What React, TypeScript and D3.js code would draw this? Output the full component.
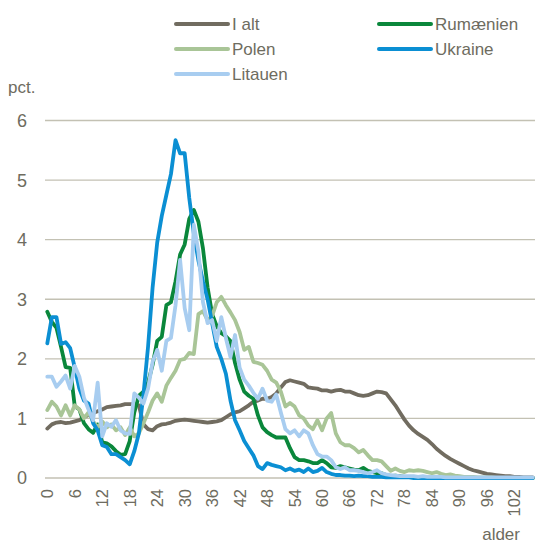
import React from "react";
import * as d3 from "d3";

// ages 0..106
const ages = d3.range(0, 107);
const tickAges = d3.range(0, 103, 6);
const yTicks = [0, 1, 2, 3, 4, 5, 6];

const iAlt = [
  0.83, 0.9, 0.93, 0.94, 0.92, 0.93, 0.95, 0.97, 1.02, 1.06, 1.09, 1.12, 1.15, 1.19, 1.2, 1.21, 1.22, 1.24, 1.24, 1.24,
  1.22, 0.9, 0.82, 0.8, 0.87, 0.9, 0.91, 0.93, 0.96, 0.97, 0.98, 0.97, 0.96, 0.95, 0.94, 0.93, 0.94, 0.95, 0.97, 1.02,
  1.07, 1.1, 1.12, 1.17, 1.22, 1.28, 1.3, 1.33, 1.33, 1.36, 1.42, 1.52, 1.61, 1.64, 1.62, 1.6, 1.58, 1.52, 1.51, 1.5,
  1.47, 1.47, 1.45, 1.47, 1.48, 1.45, 1.45, 1.42, 1.39, 1.38, 1.39, 1.42, 1.45, 1.44, 1.42, 1.32, 1.22, 1.1, 0.98, 0.88,
  0.8, 0.74, 0.69, 0.64, 0.57, 0.49, 0.43, 0.37, 0.32, 0.28, 0.24, 0.2, 0.16, 0.13, 0.11, 0.09, 0.07, 0.06, 0.05, 0.04,
  0.03, 0.03, 0.02, 0.02, 0.01, 0.01, 0.01,
];

const rumaenien = [
  2.79, 2.62, 2.52, 2.2, 1.86, 1.85, 1.2, 1.15, 0.92, 0.82, 0.76, 0.9, 0.6, 0.58, 0.53, 0.45, 0.39, 0.4, 0.62, 1.1,
  1.38, 1.45, 1.6, 1.9, 2.3, 2.37, 2.9, 2.95, 3.3, 3.75, 3.92, 4.35, 4.5, 4.3, 3.85, 3.2, 2.75, 2.55, 2.43, 2.38,
  2.3, 1.93, 1.65, 1.45, 1.38, 1.33, 1.05, 0.85, 0.77, 0.72, 0.68, 0.68, 0.68, 0.5, 0.35, 0.3, 0.3, 0.28, 0.25, 0.25,
  0.3, 0.25, 0.18, 0.17, 0.2, 0.18, 0.16, 0.14, 0.13, 0.17, 0.12, 0.1, 0.08, 0.08, 0.05, 0.03, 0.04, 0.03, 0.02, 0.02,
  0.02, 0.02, 0.01, 0.01, 0.01, 0.01, 0.01, 0.01, 0, 0, 0, 0, 0, 0, 0, 0, 0, 0, 0, 0,
  0, 0, 0, 0, 0, 0, 0,
];

const polen = [
  1.14, 1.28, 1.2, 1.05, 1.22, 1.05, 1.22, 1.15, 1.0, 1.1, 0.95, 0.85, 0.95, 0.85, 0.9, 0.8, 0.85, 0.72, 0.85, 0.7,
  0.75, 0.92, 1.1, 1.3, 1.42, 1.28, 1.55, 1.68, 1.8, 1.98, 2.0, 2.1, 2.08, 2.75, 2.8, 2.65, 2.72, 2.95, 3.04, 2.9,
  2.78, 2.65, 2.45, 2.15, 2.2, 1.95, 1.93, 1.9, 1.8, 1.65, 1.6, 1.45, 1.2, 1.26, 1.2, 1.05, 1.0, 0.88, 0.82, 0.97,
  0.8, 1.0, 1.09, 0.75, 0.6, 0.55, 0.55, 0.5, 0.43, 0.47, 0.38, 0.3, 0.3, 0.28, 0.2, 0.12, 0.16, 0.12, 0.1, 0.13,
  0.12, 0.13, 0.12, 0.1, 0.08, 0.1, 0.07, 0.05, 0.06, 0.04, 0.03, 0.02, 0.02, 0.02, 0.01, 0.01, 0.01, 0.01, 0, 0,
  0, 0, 0, 0, 0, 0, 0,
];

const ukraine = [
  2.26, 2.7, 2.7, 2.25, 2.28, 2.18, 1.85, 1.5, 1.3, 1.25, 0.92, 0.8, 0.55, 0.52, 0.4, 0.4, 0.35, 0.3, 0.23, 0.45,
  0.75, 1.4, 2.2, 3.2, 3.95, 4.4, 4.75, 5.1, 5.67, 5.45, 5.45, 4.7, 4.1, 3.65, 3.3, 3.0, 2.6, 2.2, 2.0, 1.75,
  1.3, 0.97, 0.8, 0.62, 0.5, 0.38, 0.2, 0.15, 0.25, 0.22, 0.2, 0.18, 0.13, 0.16, 0.12, 0.14, 0.1, 0.16, 0.1, 0.12,
  0.17, 0.1, 0.07, 0.05, 0.05, 0.04, 0.04, 0.03, 0.04, 0.03, 0.03, 0.02, 0.02, 0.02, 0.01, 0.01, 0.01, 0.01, 0.01, 0.01,
  0, 0, 0, 0, 0, 0, 0, 0, 0, 0, 0, 0, 0, 0, 0, 0, 0, 0, 0, 0,
  0, 0, 0, 0, 0, 0, 0,
];

const litauen = [
  1.7, 1.7, 1.53, 1.62, 1.72, 1.5, 1.88, 1.7, 1.35, 1.15, 0.97, 1.6, 0.7, 0.92, 0.86, 0.97, 0.8, 0.75, 0.74, 1.42,
  1.35, 1.25, 1.5, 1.95, 2.15, 1.8, 2.3, 2.35, 2.9, 3.66, 2.85, 2.48, 4.25, 3.8, 2.95, 2.6, 2.65, 2.3, 2.7, 2.35,
  2.03, 2.4, 1.85, 1.65, 1.55, 1.43, 1.33, 1.5, 1.3, 1.28, 1.4, 1.1, 0.82, 0.75, 0.8, 0.7, 0.8, 0.75, 0.55, 0.4,
  0.36, 0.36, 0.3, 0.18, 0.15, 0.18, 0.13, 0.13, 0.12, 0.1, 0.08, 0.1, 0.13, 0.08, 0.06, 0.05, 0.04, 0.03, 0.03, 0.03,
  0.03, 0.02, 0.03, 0.02, 0.02, 0.02, 0.02, 0.01, 0.01, 0.01, 0.01, 0.01, 0.01, 0.01, 0.01, 0.01, 0.01, 0.01, 0.01, 0.01,
  0.01, 0.01, 0.01, 0.01, 0.01, 0.01, 0.01,
];

const seriesNames = ["I alt", "Rumænien", "Polen", "Ukraine", "Litauen"];
const seriesValues = [iAlt, rumaenien, polen, ukraine, litauen];
const colors = ["#716c60", "#0a873b", "#a9c597", "#0b8fd3", "#a8cdf0"];

const W = 535;
const H = 546;
const textColor = "#6e6c60";
const font = "'Liberation Sans', Arial, sans-serif";

export default function App() {
  const x = d3.scaleBand<number>().domain(ages).range([45, 535]);
  const y = d3.scaleLinear().domain([0, 6]).range([478, 120.5]);
  const cx = (a: number) => (x(a) ?? 0) + x.bandwidth() / 2;

  const line = d3
    .line<number>()
    .x((_, i) => cx(ages[i]))
    .y((d) => y(d));

  const legendPos = [
    [176, 24],
    [379, 24],
    [176, 49],
    [379, 49],
    [176, 74],
  ];

  return (
    <svg width={W} height={H} style={{ position: "absolute", left: 0, top: 0 }} fontFamily={font}>
      <rect width={W} height={H} fill="#fff" />
      {yTicks.map((t) => (
        <g key={t}>
          <line x1={45} x2={535} y1={y(t)} y2={y(t)} stroke="#c3c1b3" strokeWidth={1.3} />
          <text x={27} y={y(t)} dy="0.36em" textAnchor="end" fontSize={18} fill={textColor}>
            {t}
          </text>
        </g>
      ))}
      <text x={8} y={93} fontSize={17} fill={textColor}>
        pct.
      </text>
      {tickAges.map((a) => (
        <text
          key={a}
          transform={`translate(${cx(a)},489) rotate(-90)`}
          textAnchor="end"
          dy="0.36em"
          fontSize={16.5}
          fill={textColor}
        >
          {a}
        </text>
      ))}
      <text x={520} y={540} textAnchor="end" fontSize={17} fill={textColor}>
        alder
      </text>
      {seriesValues.map((vals, i) => (
        <path
          key={seriesNames[i]}
          d={line(vals) ?? ""}
          fill="none"
          stroke={colors[i]}
          strokeWidth={3.8}
          strokeLinejoin="round"
          strokeLinecap="round"
        />
      ))}
      {seriesNames.map((name, i) => (
        <g key={name} transform={`translate(${legendPos[i][0]},${legendPos[i][1]})`}>
          <line x1={0} x2={52} y1={0} y2={0} stroke={colors[i]} strokeWidth={4} strokeLinecap="round" />
          <text x={56} y={0} dy="0.36em" fontSize={17} fill={textColor}>
            {name}
          </text>
        </g>
      ))}
    </svg>
  );
}
